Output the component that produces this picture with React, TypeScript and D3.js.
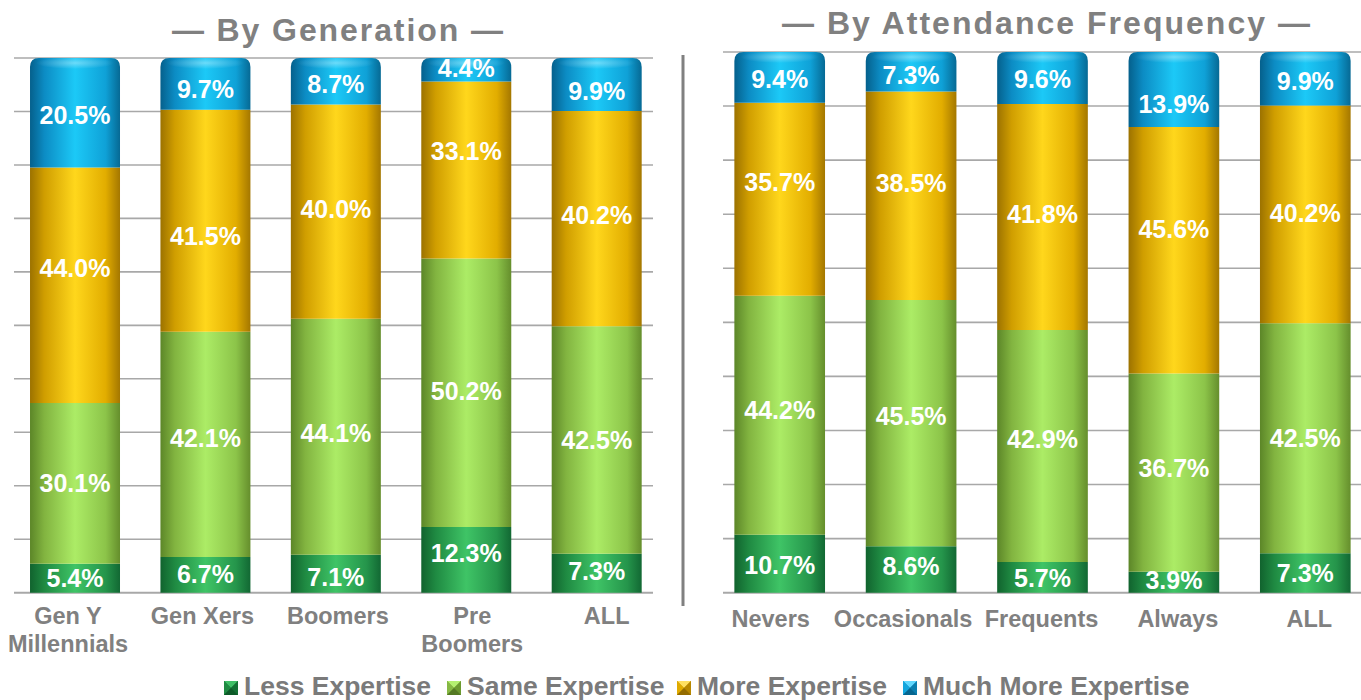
import React from "react";
import * as d3 from "d3";

// ---------- DATA ----------
const seriesNames = ["Less Expertise", "Same Expertise", "More Expertise", "Much More Expertise"];

const generationCats = ["Gen Y|Millennials", "Gen Xers", "Boomers", "Pre|Boomers", "ALL"];
const genLess = [5.4, 6.7, 7.1, 12.3, 7.3];
const genSame = [30.1, 42.1, 44.1, 50.2, 42.5];
const genMore = [44.0, 41.5, 40.0, 33.1, 40.2];
const genMuch = [20.5, 9.7, 8.7, 4.4, 9.9];

const attendanceCats = ["Nevers", "Occasionals", "Frequents", "Always", "ALL"];
const attLess = [10.7, 8.6, 5.7, 3.9, 7.3];
const attSame = [44.2, 45.5, 42.9, 36.7, 42.5];
const attMore = [35.7, 38.5, 41.8, 45.6, 40.2];
const attMuch = [9.4, 7.3, 9.6, 13.9, 9.9];

const gridTicks = [0, 0.1, 0.2, 0.3, 0.4, 0.5, 0.6, 0.7, 0.8, 0.9, 1];

// ---------- LAYOUT / STYLE ----------
// vertical nudges of the value labels (px), per series, as placed in the original
const genLabelNudge = [
  [0, -1, 3, -7, -2],
  [0, -6, -4, -2, 0],
  [-17, 15, -3, -19, -4],
  [2, 5, 3, -2, 7],
];
const attLabelNudge = [
  [1, -3, 1, -2, 0],
  [-5, -7, -7, -5, 0],
  [-17, -13, -3, -21, -1],
  [2, 3, 1, 14, 2],
];
// horizontal nudges of category labels (px)
const genCatNudge = [-7, -3, 2, 6, 10];
const attCatNudge = [-9, -8, -1, 4, 4];

const gradStops = [
  ["#11632e", "#1f8a42", "#3fc466", "#25954b", "#126833"],
  ["#5c8628", "#82b440", "#acec66", "#8cc449", "#658e2c"],
  ["#9c7200", "#d09e00", "#ffd71c", "#e2ad00", "#a47700"],
  ["#05608c", "#0c8cc4", "#1cc9f7", "#0fa1d7", "#066994"],
];
const legendShades = [
  ["#3fbf66", "#1f8a42", "#137034", "#0d5a28"],
  ["#b4f070", "#86b844", "#6c9a30", "#557a24"],
  ["#ffe060", "#e0ab00", "#b88800", "#946c00"],
  ["#60d8ff", "#12a6de", "#0a7fb0", "#066690"],
];
const legendX = [224, 447, 677, 903];
const FONT = "'Liberation Sans', Arial, Helvetica, sans-serif";
const GRAY = "#808080";
const GRID = "#a8a8a8";

type PanelProps = {
  id: string;
  cats: string[];
  values: number[][];
  nudge: number[][];
  catNudge: number[];
  xRange: [number, number];
  gridX: [number, number];
  yTop: number;
  yBottom: number;
  title: string;
  titleX: number;
  titleY: number;
  titleW: number;
  labelY: number;
};

function Panel(p: PanelProps) {
  const x = d3
    .scaleBand<string>()
    .domain(p.cats)
    .range(p.xRange)
    .paddingInner(0.31)
    .paddingOuter(0.155);
  const y = d3.scaleLinear().domain([0, 1]).range([p.yBottom, p.yTop]);

  const rows = p.cats.map((c, i) => {
    const r: any = { cat: c };
    seriesNames.forEach((s, k) => (r[s] = p.values[k][i]));
    return r;
  });
  const stacked = d3.stack<any>().keys(seriesNames).offset(d3.stackOffsetExpand)(rows);
  const bw = x.bandwidth();
  const R = 9;

  return (
    <g>
      <text
        x={p.titleX}
        y={p.titleY}
        textAnchor="middle"
        fontFamily={FONT}
        fontWeight="bold"
        fontSize={32}
        fill={GRAY}
        textLength={p.titleW}
        lengthAdjust="spacing"
      >
        {p.title}
      </text>
      {gridTicks.map((t) => (
        <line
          key={t}
          x1={p.gridX[0]}
          x2={p.gridX[1]}
          y1={y(t)}
          y2={y(t)}
          stroke={GRID}
          strokeWidth={t === 0 ? 2 : 1.6}
        />
      ))}
      {stacked.map((layer, k) =>
        layer.map((d, i) => {
          const x0 = x(p.cats[i])!;
          const y0 = y(d[1]);
          const y1 = y(d[0]);
          const isTop = k === seriesNames.length - 1;
          const path = isTop
            ? `M${x0},${y1} L${x0},${y0 + R} Q${x0},${y0} ${x0 + R},${y0} L${x0 + bw - R},${y0} Q${x0 + bw},${y0} ${x0 + bw},${y0 + R} L${x0 + bw},${y1} Z`
            : `M${x0},${y1} L${x0},${y0} L${x0 + bw},${y0} L${x0 + bw},${y1} Z`;
          return <path key={`${k}-${i}`} d={path} fill={`url(#${p.id}-g${k})`} />;
        })
      )}
      {p.cats.map((c, i) => {
        const x0 = x(c)!;
        const top = y(1);
        return (
          <ellipse
            key={"hl" + i}
            cx={x0 + bw / 2}
            cy={top + 5}
            rx={bw / 2 - 6}
            ry={6}
            fill={`url(#${p.id}-hl)`}
          />
        );
      })}
      {stacked.map((layer, k) =>
        layer.map((d, i) => {
          const x0 = x(p.cats[i])!;
          const cy = (y(d[0]) + y(d[1])) / 2 + p.nudge[k][i];
          return (
            <text
              key={`t${k}-${i}`}
              x={x0 + bw / 2}
              y={cy}
              dy="0.36em"
              textAnchor="middle"
              fontFamily={FONT}
              fontWeight="bold"
              fontSize={25}
              fill="#ffffff"
            >
              {p.values[k][i].toFixed(1) + "%"}
            </text>
          );
        })
      )}
      {p.cats.map((c, i) => {
        const lines = c.split("|");
        const cx = x(c)! + bw / 2 + p.catNudge[i];
        return (
          <text
            key={"c" + c}
            x={cx}
            y={p.labelY}
            textAnchor="middle"
            fontFamily={FONT}
            fontWeight="bold"
            fontSize={23.5}
            fill={GRAY}
          >
            {lines.map((l, j) => (
              <tspan key={j} x={cx} dy={j === 0 ? 0 : 28}>
                {l}
              </tspan>
            ))}
          </text>
        );
      })}
    </g>
  );
}

export default function App() {
  const defs = ["L", "R"].map((pid) => (
    <React.Fragment key={pid}>
      {gradStops.map((stops, k) => (
        <linearGradient key={k} id={`${pid}-g${k}`} x1="0" x2="1" y1="0" y2="0">
          {stops.map((c, j) => (
            <stop key={j} offset={[0, 0.16, 0.5, 0.84, 1][j]} stopColor={c} />
          ))}
        </linearGradient>
      ))}
      <radialGradient id={`${pid}-hl`} cx="0.5" cy="0.5" r="0.5">
        <stop offset="0" stopColor="#ffffff" stopOpacity={0.35} />
        <stop offset="1" stopColor="#ffffff" stopOpacity={0} />
      </radialGradient>
    </React.Fragment>
  ));

  return (
    <svg
      width={1361}
      height={700}
      style={{ position: "absolute", left: 0, top: 0, display: "block", background: "#ffffff" }}
    >
      <defs>{defs}</defs>
      <Panel
        id="L"
        cats={generationCats}
        values={[genLess, genSame, genMore, genMuch]}
        nudge={genLabelNudge}
        catNudge={genCatNudge}
        xRange={[9.8, 661.9]}
        gridX={[14, 653]}
        yTop={58}
        yBottom={592.7}
        title="— By Generation —"
        titleX={337.4}
        titleY={41}
        titleW={331}
        labelY={624}
      />
      <Panel
        id="R"
        cats={attendanceCats}
        values={[attLess, attSame, attMore, attMuch]}
        nudge={attLabelNudge}
        catNudge={attCatNudge}
        xRange={[714, 1371]}
        gridX={[723, 1361]}
        yTop={52}
        yBottom={592.7}
        title="— By Attendance Frequency —"
        titleX={1046}
        titleY={34}
        titleW={528}
        labelY={627}
      />
      <line x1={683} x2={683} y1={55} y2={606} stroke="#808080" strokeWidth={3} />
      {seriesNames.map((s, k) => {
        const mx = legendX[k];
        const my = 681;
        const m = 14;
        const sh = legendShades[k];
        const c = [mx + m / 2, my + m / 2];
        return (
          <g key={s}>
            <rect x={mx} y={my} width={m} height={m} fill={sh[2]} />
            <polygon points={`${mx},${my} ${mx + m},${my} ${c[0]},${c[1]}`} fill={sh[0]} />
            <polygon points={`${mx},${my} ${mx},${my + m} ${c[0]},${c[1]}`} fill={sh[1]} />
            <polygon points={`${mx + m},${my} ${mx + m},${my + m} ${c[0]},${c[1]}`} fill={sh[2]} />
            <polygon points={`${mx},${my + m} ${mx + m},${my + m} ${c[0]},${c[1]}`} fill={sh[3]} />
            <text
              x={mx + m + 6}
              y={695}
              fontFamily={FONT}
              fontWeight="bold"
              fontSize={26.5}
              fill="#7a7a7a"
            >
              {s}
            </text>
          </g>
        );
      })}
    </svg>
  );
}
